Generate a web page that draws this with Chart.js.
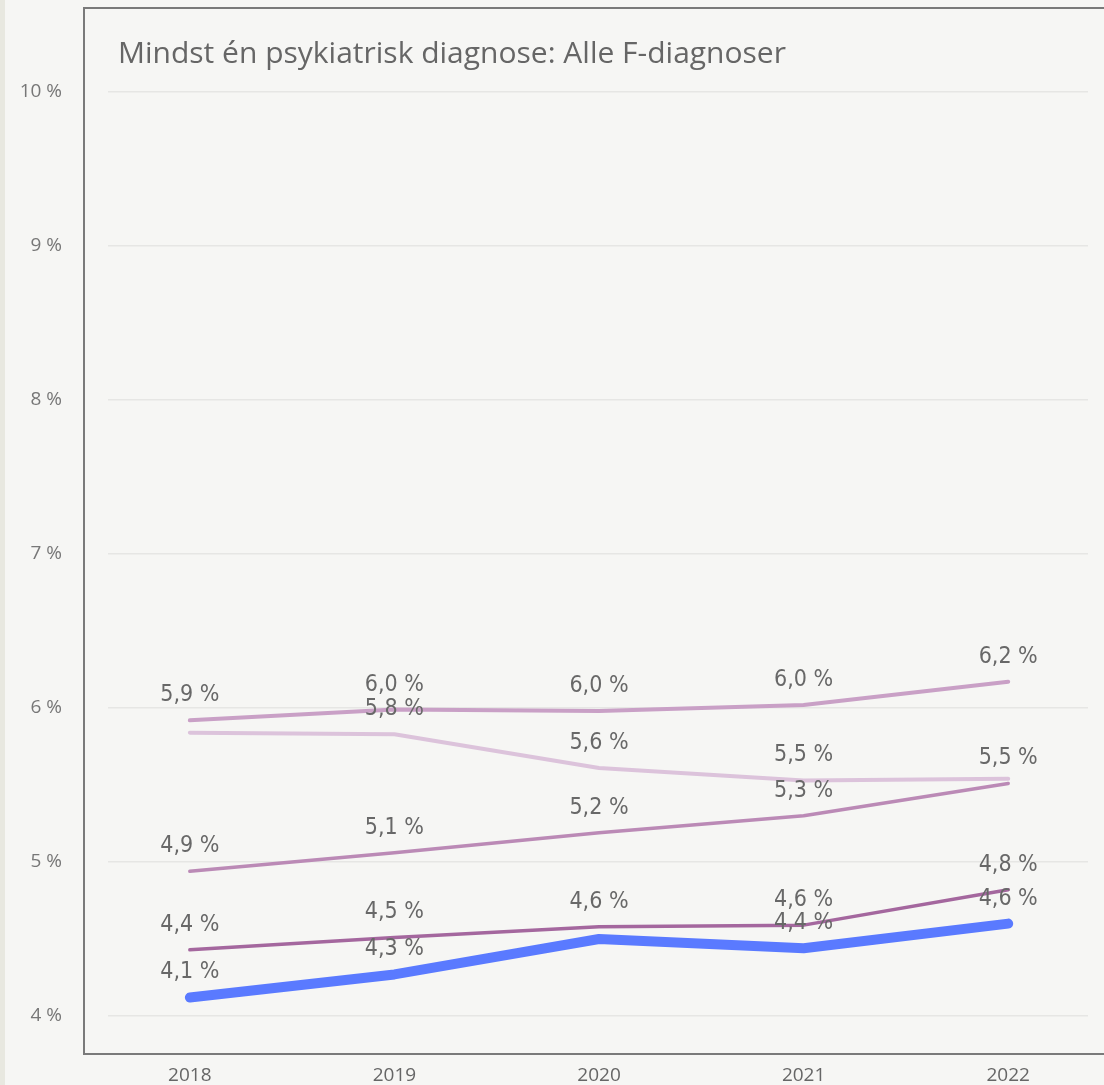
<!DOCTYPE html>
<html>
<head>
<meta charset="utf-8">
<script src="https://cdn.jsdelivr.net/npm/chart.js@4"></script>
<style>
  html, body { margin: 0; padding: 0; background: #f6f6f4; }
  #wrap { position: relative; width: 1104px; height: 1085px; }
  #strip { position: absolute; left: 0; top: 0; width: 5px; height: 1085px; background: #e8e8e0; }
</style>
</head>
<body>
<div id="wrap">
  <div id="strip"></div>
  <canvas id="chart" width="1104" height="1085"></canvas>
</div>
<script>
// values (percent)
const years = [2018, 2019, 2020, 2021, 2022];
const seriesA = [5.92, 5.99, 5.98, 6.02, 6.17];
const seriesB = [5.84, 5.83, 5.61, 5.53, 5.54];
const seriesC = [4.94, 5.06, 5.19, 5.30, 5.51];
const seriesD = [4.43, 4.51, 4.58, 4.59, 4.82];
const seriesE = [4.12, 4.27, 4.50, 4.44, 4.60];
const yTicks = [4, 5, 6, 7, 8, 9, 10];
const titleText = 'Mindst én psykiatrisk diagnose: Alle F-diagnoser';

const fmt = v => v.toFixed(1).replace('.', ',') + ' %';

function makeSet(values, color, width, rank) {
    return {
        data: values.map((v, i) => ({ x: years[i], y: v })),
        borderColor: color,
        borderWidth: width,
        borderCapStyle: 'round',
        borderJoinStyle: 'round',
        pointRadius: 0,
        tension: 0,
        fill: false,
        labelRank: rank
    };
}

// background box, border and title
const frame = {
    id: 'frame',
    beforeDraw(chart) {
        const ctx = chart.ctx;
        ctx.save();
        ctx.strokeStyle = '#7a7a7a';
        ctx.lineWidth = 2;
        ctx.beginPath();
        ctx.moveTo(1104, 8);
        ctx.lineTo(84, 8);
        ctx.lineTo(84, 1054);
        ctx.lineTo(1104, 1054);
        ctx.stroke();
        ctx.fillStyle = '#666666';
        ctx.font = '30px "Open Sans", "Noto Sans", sans-serif';
        ctx.textBaseline = 'middle';
        ctx.fillText(titleText, 118, 54);
        ctx.restore();
    }
};

// value labels above each point, hiding ones that would collide
const valueLabels = {
    id: 'valueLabels',
    afterDatasetsDraw(chart) {
        const ctx = chart.ctx;
        const order = chart.data.datasets
            .map((ds, di) => di)
            .sort((a, b) => chart.data.datasets[a].labelRank - chart.data.datasets[b].labelRank);
        const placed = years.map(() => []);
        ctx.save();
        ctx.fillStyle = '#686868';
        ctx.font = '23px "DejaVu Sans Condensed", "Roboto", sans-serif';
        ctx.textAlign = 'center';
        ctx.textBaseline = 'middle';
        order.forEach(di => {
            const ds = chart.data.datasets[di];
            chart.getDatasetMeta(di).data.forEach((pt, i) => {
                const ly = pt.y - 25;
                if (placed[i].some(y => Math.abs(y - ly) < 18)) return;
                placed[i].push(ly);
                ctx.fillText(fmt(ds.data[i].y), pt.x, ly);
            });
        });
        ctx.restore();
    }
};

new Chart(document.getElementById('chart'), {
    type: 'line',
    data: {
        datasets: [
            makeSet(seriesB, '#dcc3db', 4, 3),
            makeSet(seriesA, '#c9a0c6', 4, 0),
            makeSet(seriesC, '#bb8ab6', 3.5, 1),
            makeSet(seriesD, '#a4679e', 3.5, 2),
            makeSet(seriesE, '#5a7aff', 10, 4)
        ]
    },
    options: {
        responsive: false,
        animation: false,
        layout: { padding: { left: 12, right: 16, top: 92, bottom: 0 } },
        plugins: { legend: { display: false }, tooltip: { enabled: false } },
        scales: {
            x: {
                type: 'linear',
                min: 2017.6,
                max: 2022.39,
                afterBuildTicks: s => { s.ticks = years.map(v => ({ value: v })); },
                afterFit: s => { s.height = 69; },
                grid: { display: false, drawTicks: false },
                border: { display: false },
                ticks: {
                    padding: 48,
                    color: '#666666',
                    font: { family: '"Open Sans", "Noto Sans", sans-serif', size: 19 },
                    callback: v => String(v)
                }
            },
            y: {
                min: 4,
                max: 10,
                afterBuildTicks: s => { s.ticks = yTicks.map(v => ({ value: v })); },
                afterFit: s => { s.width = 96; },
                grid: { color: '#e6e6e4', lineWidth: 1.5, drawTicks: false },
                border: { display: false },
                ticks: {
                    padding: 46,
                    color: '#777777',
                    font: { family: '"Open Sans", "Noto Sans", sans-serif', size: 19 },
                    callback: v => v + ' %'
                }
            }
        }
    },
    plugins: [frame, valueLabels]
});
</script>
</body>
</html>
